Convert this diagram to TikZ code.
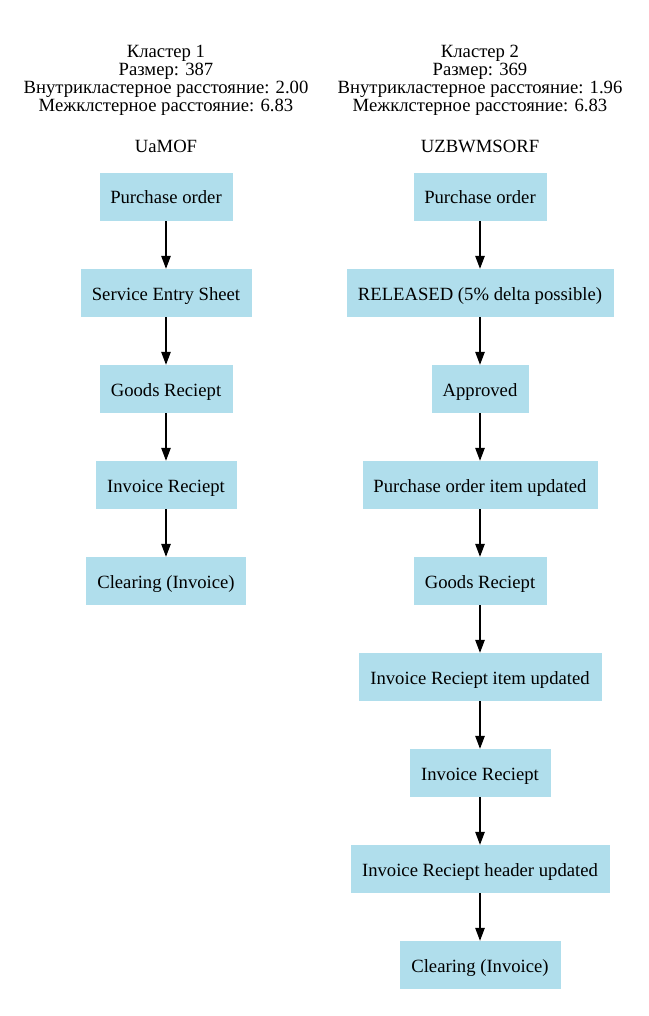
\documentclass[tikz,border=0pt]{standalone}
\usepackage{fontspec}
\setmainfont{Liberation Serif}
\usetikzlibrary{arrows.meta}
\definecolor{boxblue}{HTML}{B0DEEC}
\tikzset{
  stepbox/.style={rectangle, fill=boxblue, draw=none, minimum height=48pt, inner sep=0pt, text height=16pt, text depth=2pt, font=\fontsize{18.67}{18.67}\selectfont},
  hdr/.style={anchor=base, inner sep=0pt, font=\fontsize{18.67}{18.67}\selectfont},
  flow/.style={draw=black, line width=1.2pt, -{Triangle[length=13pt,width=9.5pt]}}
}
\begin{document}
\begin{tikzpicture}[x=1pt,y=-1pt]
\useasboundingbox (0,0) rectangle (648,1016);
% cluster 1
\node[hdr] (h1a) at (166,58) {Кластер 1};
\node[hdr] (h1b) at (166,76) {Размер: 387};
\node[hdr] (h1c) at (166,94) {Внутрикластерное расстояние: 2.00};
\node[hdr] (h1d) at (166,112) {Межклстерное расстояние: 6.83};
\node[hdr] (t1) at (166,153) {UaMOF};
\node[stepbox, minimum width=133pt] (a1) at (166,197) {Purchase order};
\node[stepbox, minimum width=171pt] (a2) at (166,293) {Service Entry Sheet};
\node[stepbox, minimum width=133pt] (a3) at (166,389) {Goods Reciept};
\node[stepbox, minimum width=141pt] (a4) at (166,485) {Invoice Reciept};
\node[stepbox, minimum width=160pt] (a5) at (166,581) {Clearing (Invoice)};
\draw[flow] (a1) -- (a2);
\draw[flow] (a2) -- (a3);
\draw[flow] (a3) -- (a4);
\draw[flow] (a4) -- (a5);
% cluster 2
\node[hdr] (h2a) at (480,58) {Кластер 2};
\node[hdr] (h2b) at (480,76) {Размер: 369};
\node[hdr] (h2c) at (480,94) {Внутрикластерное расстояние: 1.96};
\node[hdr] (h2d) at (480,112) {Межклстерное расстояние: 6.83};
\node[hdr] (t2) at (480,153) {UZBWMSORF};
\node[stepbox, minimum width=133pt] (b1) at (480,197) {Purchase order};
\node[stepbox, minimum width=267pt] (b2) at (480,293) {RELEASED (5\% delta possible)};
\node[stepbox, minimum width=97pt] (b3) at (480,389) {Approved};
\node[stepbox, minimum width=235pt] (b4) at (480,485) {Purchase order item updated};
\node[stepbox, minimum width=133pt] (b5) at (480,581) {Goods Reciept};
\node[stepbox, minimum width=243pt] (b6) at (480,677) {Invoice Reciept item updated};
\node[stepbox, minimum width=141pt] (b7) at (480,773) {Invoice Reciept};
\node[stepbox, minimum width=259pt] (b8) at (480,869) {Invoice Reciept header updated};
\node[stepbox, minimum width=161pt] (b9) at (480,965) {Clearing (Invoice)};
\draw[flow] (b1) -- (b2);
\draw[flow] (b2) -- (b3);
\draw[flow] (b3) -- (b4);
\draw[flow] (b4) -- (b5);
\draw[flow] (b5) -- (b6);
\draw[flow] (b6) -- (b7);
\draw[flow] (b7) -- (b8);
\draw[flow] (b8) -- (b9);
\end{tikzpicture}
\end{document}
